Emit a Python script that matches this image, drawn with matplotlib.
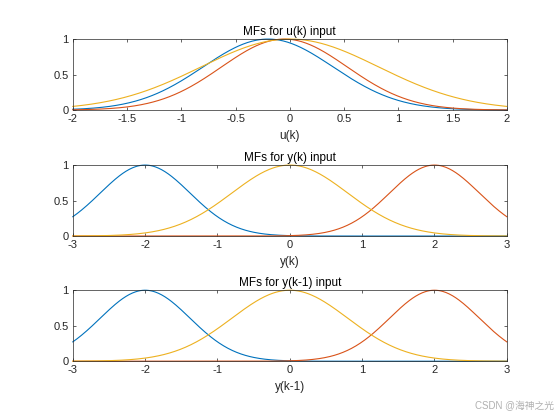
import numpy as np
import matplotlib
matplotlib.use("Agg")
import matplotlib.pyplot as plt

plt.rcParams['font.family'] = ['Liberation Sans', 'Noto Sans CJK SC', 'DejaVu Sans']
plt.rcParams['font.size'] = 8

# Gaussian MF parameters: (sigma, center)
u_sigma = [0.60, 0.58, 0.82]
u_center = [-0.20, -0.05, 0.0]
y_sigma = [0.62, 0.62, 0.80]
y_center = [-2.0, 2.0, 0.0]
y1_sigma = [0.62, 0.62, 0.80]
y1_center = [-2.0, 2.0, 0.0]

titles = ['MFs for u(k) input', 'MFs for y(k) input', 'MFs for y(k-1) input']
xlabels = ['u(k)', 'y(k)', 'y(k-1)']
ranges = [(-2, 2), (-3, 3), (-3, 3)]
xticks = [[-2, -1.5, -1, -0.5, 0, 0.5, 1, 1.5, 2], [-3, -2, -1, 0, 1, 2, 3], [-3, -2, -1, 0, 1, 2, 3]]
params = [(u_sigma, u_center), (y_sigma, y_center), (y1_sigma, y1_center)]

colors = ['#0072BD', '#D95319', '#EDB120']


def gaussmf(x, s, c):
    return np.exp(-(x - c) ** 2 / (2 * s ** 2))


fig = plt.figure(figsize=(5.6, 4.2), dpi=100)
bottoms = [0.738, 0.438, 0.140]

for i in range(3):
    ax = fig.add_axes([0.13, bottoms[i], 0.775, 0.169])
    lo, hi = ranges[i]
    x = np.linspace(lo, hi, 401)
    sig, cen = params[i]
    for s, c, col in zip(sig, cen, colors):
        ax.plot(x, gaussmf(x, s, c), color=col, lw=0.8, clip_on=False)
    ax.set_xlim(lo, hi)
    ax.set_ylim(0, 1)
    ax.set_xticks(xticks[i])
    ax.set_xticklabels([f'{t:g}' for t in xticks[i]])
    ax.set_yticks([0, 0.5, 1])
    ax.set_yticklabels(['0', '0.5', '1'])
    ax.tick_params(direction='in', length=2.5, width=0.5, top=True, right=True, pad=3, colors='#262626')
    for sp in ax.spines.values():
        sp.set_linewidth(0.5)
        sp.set_color('#262626')
    ax.set_title(titles[i], fontsize=8.5, pad=3, color='#000000')
    ax.set_xlabel(xlabels[i], fontsize=8.5, labelpad=4, color='#262626')

fig.text(0.99, 0.02, 'CSDN @海神之光', ha='right', va='bottom', fontsize=7, color='#b0b0b0')

fig.savefig('out.png', dpi=100, facecolor='white')
